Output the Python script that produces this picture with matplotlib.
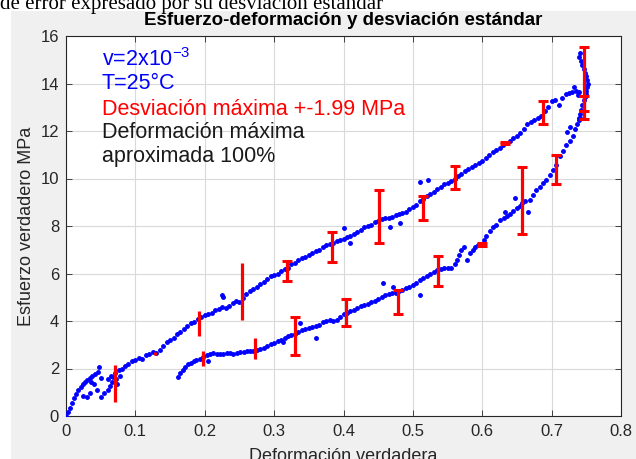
"""
Esfuerzo-deformación con barras de desviación estándar (recreación).
"""

import matplotlib
matplotlib.use("Agg")
import matplotlib.pyplot as plt
from matplotlib.patches import Rectangle

plt.rcParams["font.family"] = ["Liberation Sans", "DejaVu Sans"]
plt.rcParams["mathtext.fontset"] = "custom"
plt.rcParams["mathtext.rm"] = "Liberation Sans"
plt.rcParams["mathtext.it"] = "Liberation Sans"

# --- carga (rama superior) ---
upper_x = [0.000, 0.003, 0.006, 0.009, 0.012, 0.015, 0.018, 0.021, 0.024, 0.027,
           0.030, 0.034, 0.038, 0.042, 0.046, 0.036, 0.040, 0.025, 0.030, 0.035,
           0.045, 0.050, 0.055, 0.060, 0.063, 0.066, 0.068, 0.070, 0.072, 0.074,
           0.076, 0.060, 0.065, 0.050, 0.047, 0.078,
           0.080, 0.085, 0.090, 0.095, 0.100, 0.105, 0.110, 0.115, 0.120, 0.125,
           0.130, 0.135, 0.140, 0.145, 0.150, 0.155, 0.160, 0.165, 0.170, 0.175,
           0.180, 0.185, 0.190, 0.195, 0.200, 0.205, 0.210, 0.215, 0.220, 0.225,
           0.230, 0.235, 0.240, 0.245, 0.250, 0.255, 0.260, 0.265, 0.270, 0.275,
           0.280, 0.285, 0.290, 0.295, 0.300, 0.305, 0.310, 0.315, 0.320, 0.325,
           0.330, 0.335, 0.340, 0.345, 0.350, 0.355, 0.360, 0.365, 0.370, 0.375,
           0.380, 0.385, 0.390, 0.395, 0.400, 0.405, 0.410, 0.415, 0.420, 0.425,
           0.430, 0.435, 0.440, 0.445, 0.450, 0.455, 0.460, 0.465, 0.470, 0.475,
           0.480, 0.485, 0.490, 0.495, 0.500, 0.505, 0.510, 0.515, 0.520, 0.525,
           0.530, 0.535, 0.540, 0.545, 0.550, 0.555, 0.560, 0.565, 0.570, 0.575,
           0.580, 0.585, 0.590, 0.595, 0.600, 0.605, 0.610, 0.615, 0.620, 0.625,
           0.630, 0.635, 0.640, 0.645, 0.650, 0.655, 0.660, 0.665, 0.670, 0.675,
           0.680, 0.685, 0.690, 0.695, 0.700, 0.705, 0.710, 0.715, 0.720, 0.725,
           0.730, 0.735, 0.740,
           0.225, 0.227, 0.400, 0.510, 0.522, 0.409, 0.467, 0.481, 0.732, 0.738]
upper_y = [0.00, 0.15, 0.35, 0.55, 0.75, 0.92, 1.08, 1.22, 1.35, 1.42,
           1.50, 1.62, 1.70, 1.78, 1.86, 1.45, 1.35, 0.85, 0.80, 0.95,
           1.10, 0.82, 0.95, 1.10, 1.25, 1.45, 1.65, 1.80, 1.55, 1.35,
           1.95, 1.55, 1.70, 1.60, 2.05, 1.70,
           2.00, 2.10, 2.20, 2.30, 2.35, 2.45, 2.40, 2.55, 2.60, 2.70,
           2.65, 2.80, 2.95, 3.10, 3.20, 3.30, 3.45, 3.55, 3.65, 3.80,
           3.90, 3.95, 4.10, 4.15, 4.25, 4.30, 4.35, 4.45, 4.50, 4.60,
           4.55, 4.65, 4.75, 4.85, 4.80, 4.95, 5.15, 5.25, 5.35, 5.45,
           5.55, 5.65, 5.75, 5.90, 5.95, 6.00, 6.10, 6.20, 6.25, 6.40,
           6.45, 6.55, 6.65, 6.70, 6.80, 6.85, 6.95, 7.00, 7.10, 7.20,
           7.25, 7.30, 7.35, 7.40, 7.45, 7.55, 7.60, 7.65, 7.75, 7.85,
           7.95, 8.00, 8.05, 8.15, 8.20, 8.30, 8.35, 8.35, 8.40, 8.45,
           8.50, 8.55, 8.60, 8.70, 8.80, 8.90, 9.05, 9.15, 9.25, 9.35,
           9.45, 9.55, 9.65, 9.75, 9.80, 9.90, 10.00, 10.10, 10.20, 10.30,
           10.40, 10.50, 10.55, 10.65, 10.75, 10.85, 11.00, 11.10, 11.20, 11.30,
           11.40, 11.50, 11.60, 11.70, 11.80, 11.90, 12.10, 12.30, 12.40, 12.45,
           12.55, 12.65, 12.85, 13.00, 13.25, 13.30, 13.10, 13.40, 13.55, 13.60,
           13.65, 13.70, 13.65,
           5.09, 5.02, 7.90, 9.87, 9.94, 7.27, 7.97, 8.11, 13.85, 13.50]

# --- tramo vertical en la deformación máxima ---
peak_x = [0.741, 0.740, 0.742, 0.744, 0.746, 0.748, 0.750, 0.751, 0.752, 0.751,
          0.750, 0.749, 0.748, 0.746, 0.744, 0.742, 0.741, 0.740]
peak_y = [15.27, 15.10, 14.95, 14.80, 14.60, 14.45, 14.30, 14.15, 14.00, 13.85,
          13.70, 13.55, 13.45, 13.30, 13.10, 12.90, 12.70, 12.55]

# --- descarga (rama inferior) ---
lower_x = [0.162, 0.165, 0.169, 0.172, 0.176, 0.180, 0.184, 0.188, 0.193, 0.198,
           0.203, 0.208, 0.205, 0.212, 0.217, 0.222, 0.227, 0.232, 0.236, 0.241,
           0.246, 0.251, 0.256, 0.261, 0.265, 0.270, 0.275, 0.280, 0.285, 0.290,
           0.295, 0.300, 0.305, 0.310, 0.315, 0.313, 0.320, 0.325, 0.330, 0.335,
           0.337, 0.340, 0.345, 0.350, 0.355, 0.360, 0.361, 0.365, 0.370, 0.375,
           0.380, 0.385, 0.390, 0.395, 0.400, 0.405, 0.410, 0.415, 0.420, 0.425,
           0.430, 0.435, 0.440, 0.445, 0.450, 0.455, 0.457, 0.460, 0.465, 0.470,
           0.472, 0.475, 0.480, 0.485, 0.490, 0.495, 0.500, 0.505, 0.510, 0.510,
           0.515, 0.520, 0.525, 0.530, 0.535, 0.540, 0.545, 0.550, 0.555, 0.560,
           0.563, 0.567, 0.570, 0.574, 0.578, 0.582, 0.586, 0.590, 0.594, 0.598,
           0.602, 0.606, 0.611, 0.616, 0.620, 0.626, 0.631, 0.633, 0.636, 0.640,
           0.645, 0.647, 0.650, 0.654, 0.658, 0.662, 0.666, 0.669, 0.673, 0.678,
           0.683, 0.688, 0.692, 0.697, 0.702, 0.707, 0.712, 0.717, 0.720, 0.722,
           0.726, 0.727, 0.731, 0.734, 0.736, 0.739, 0.741]
lower_y = [1.65, 1.80, 1.95, 2.05, 2.20, 2.25, 2.30, 2.35, 2.40, 2.50,
           2.55, 2.60, 2.30, 2.65, 2.60, 2.60, 2.62, 2.65, 2.65, 2.62,
           2.66, 2.68, 2.70, 2.72, 2.72, 2.75, 2.78, 2.82, 2.88, 2.95,
           3.02, 3.08, 3.15, 3.22, 3.28, 3.12, 3.35, 3.40, 3.45, 3.55,
           3.90, 3.62, 3.68, 3.72, 3.75, 3.78, 3.30, 3.85, 3.95, 4.02,
           4.05, 4.02, 4.05, 4.15, 4.28, 4.35, 4.42, 4.48, 4.55, 4.62,
           4.68, 4.72, 4.78, 4.85, 4.92, 5.00, 5.60, 5.08, 5.15, 5.18,
           5.45, 5.20, 5.25, 5.30, 5.38, 5.45, 5.52, 5.62, 5.72, 5.10,
           5.80, 5.88, 5.98, 6.08, 6.15, 6.20, 6.22, 6.22, 6.22, 6.40,
           6.57, 6.80, 6.99, 7.10, 6.57, 6.85, 7.00, 7.10, 7.18, 7.22,
           7.40, 7.60, 7.80, 7.95, 8.05, 8.25, 8.35, 8.60, 8.42, 8.50,
           8.65, 9.16, 8.75, 8.85, 8.95, 9.05, 8.60, 9.10, 9.30, 9.50,
           9.65, 9.80, 9.95, 10.15, 10.35, 10.55, 10.95, 11.15, 11.40, 11.95,
           11.60, 12.15, 11.80, 12.10, 12.30, 12.45, 12.55]

# --- barras de error sin tope ---
bar_x = [0.070, 0.128, 0.192, 0.197, 0.253, 0.273]
bar_y = [1.38, 2.64, 3.90, 2.42, 5.25, 2.84]
bar_err = [0.78, 0.06, 0.52, 0.30, 1.21, 0.44]

# --- barras de error con tope ---
cap_x = [0.319, 0.330, 0.384, 0.403, 0.451, 0.478, 0.514, 0.536, 0.560, 0.599,
         0.633, 0.657, 0.687, 0.706, 0.747, 0.747]
cap_y = [6.12, 3.38, 7.10, 4.35, 8.41, 4.80, 8.75, 6.11, 10.04, 7.22,
         11.48, 9.08, 12.77, 10.39, 14.19, 12.98]
cap_err = [0.42, 0.80, 0.63, 0.56, 1.11, 0.51, 0.50, 0.64, 0.50, 0.08,
           0.04, 1.42, 0.49, 0.61, 1.33, 0.49]

xticks = [0, 0.1, 0.2, 0.3, 0.4, 0.5, 0.6, 0.7, 0.8]
yticks = [0, 2, 4, 6, 8, 10, 12, 14, 16]

BLUE = "#0000ff"
RED = "#ff0000"

fig = plt.figure(figsize=(6.36, 4.59), dpi=100)
fig.patch.set_facecolor("white")
# fondo gris de la ventana de MATLAB
fig.patches.append(Rectangle((11 / 636, 0), 1, 1 - 11 / 459, transform=fig.transFigure,
                             facecolor="#f0f0f0", edgecolor="none", zorder=-10))
# texto del documento cortado arriba
fig.text(0.0, 1 - 4 / 459, "de error expresado por su desviación estándar",
         family="Liberation Serif", fontsize=15, va="center", ha="left", color="black")

ax = fig.add_axes([66 / 636, 1 - 416 / 459, 555 / 636, 380 / 459])
ax.set_facecolor("white")

ax.plot(upper_x, upper_y, ".", color=BLUE, ms=5, zorder=3)
ax.plot(peak_x, peak_y, ".", color=BLUE, ms=5, zorder=3)
ax.plot(lower_x, lower_y, ".", color=BLUE, ms=5, zorder=3)

ax.errorbar(bar_x, bar_y, yerr=bar_err, fmt="none", ecolor=RED, elinewidth=2.3,
            capsize=0, zorder=4)
ax.errorbar(cap_x, cap_y, yerr=cap_err, fmt="none", ecolor=RED, elinewidth=2.3,
            capsize=3.6, capthick=2.2, zorder=4)

ax.set_xlim(0, 0.8)
ax.set_ylim(0, 16)
ax.set_xticks(xticks)
ax.set_xticklabels(["0", "0.1", "0.2", "0.3", "0.4", "0.5", "0.6", "0.7", "0.8"])
ax.set_yticks(yticks)
ax.tick_params(direction="in", length=4, width=0.6, labelsize=12,
               colors="#262626", top=True, right=True)
ax.tick_params(axis="x", pad=6)
ax.tick_params(axis="y", pad=5)
ax.grid(True, color="#d9d9d9", lw=0.8)
ax.set_axisbelow(True)
for s in ax.spines.values():
    s.set_color("#262626")
    s.set_linewidth(0.8)

ax.set_title("Esfuerzo-deformación y desviación estándar", fontsize=13.5,
             fontweight="bold", color="#000000", pad=8)
ax.set_xlabel("Deformación verdadera", fontsize=13, color="#262626", labelpad=6)
ax.set_ylabel("Esfuerzo verdadero MPa", fontsize=13, color="#262626", labelpad=4)

tx = 0.0515
ax.text(tx, 15.0, "v=2x10$^{-3}$", color=BLUE, fontsize=15.5, va="center")
ax.text(tx, 13.98, "T=25°C", color=BLUE, fontsize=15.5, va="center")
ax.text(tx, 12.92, "Desviación máxima +-1.99 MPa", color=RED, fontsize=15.5, va="center")
ax.text(tx, 11.92, "Deformación máxima", color="#1a1a1a", fontsize=15.5, va="center")
ax.text(tx, 10.91, "aproximada 100%", color="#1a1a1a", fontsize=15.5, va="center")

fig.savefig("out.png", dpi=100, facecolor=fig.get_facecolor())
